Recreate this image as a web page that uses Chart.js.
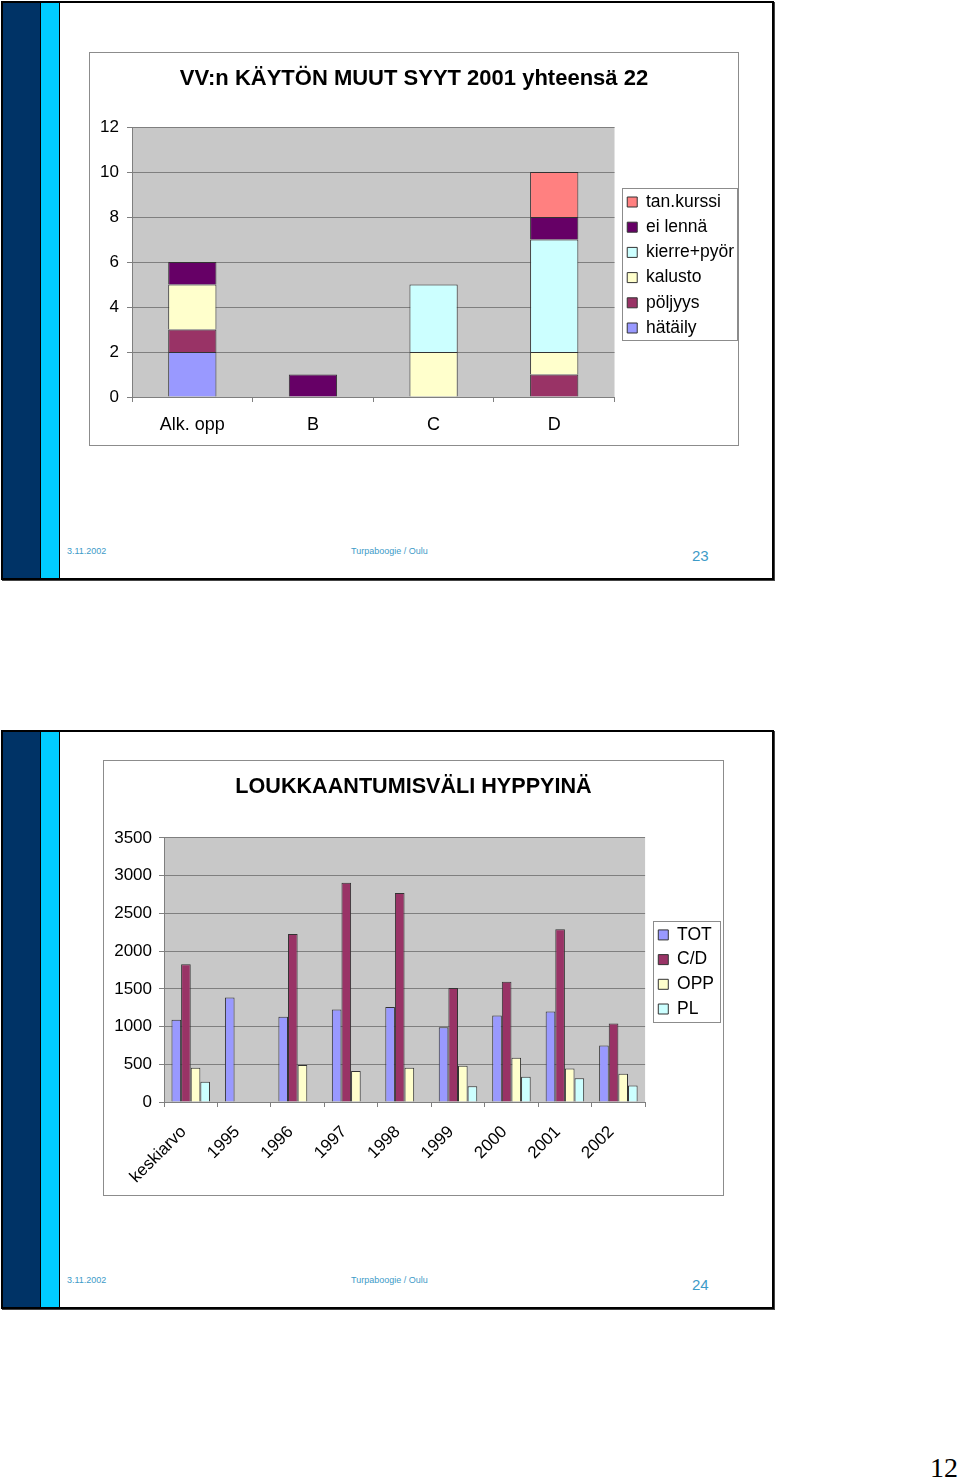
<!DOCTYPE html>
<html lang="fi">
<head>
  <meta charset="UTF-8">
  <title>Turpaboogie / Oulu</title>
  <script src="https://cdn.jsdelivr.net/npm/chart.js"></script>
  <style>
    body {
      margin: 0;
      width: 960px;
      height: 1480px;
      position: relative;
      background: #fff;
      font-family: "Liberation Sans", Arial, sans-serif;
      overflow: hidden;
    }
    .slide {
      position: absolute;
      left: 1px;
      width: 773px;
      height: 579px;
      border: 2px solid #000;
      box-sizing: border-box;
      box-shadow: 1px 1px 0 #444;
      background: #fff;
    }
    .navy {
      position: absolute;
      left: 0; top: 0; bottom: 0;
      width: 37px;
      background: #003366;
      border-right: 1px solid #000;
    }
    .cyan {
      position: absolute;
      left: 38px; top: 0; bottom: 0;
      width: 18px;
      background: #00CCFF;
      border-right: 1px solid #000;
    }
    .box {
      position: absolute;
      border: 1px solid #8c8c8c;
      background: #fff;
      box-sizing: border-box;
    }
    .box canvas { position: absolute; left: 0; top: 0; }
    .foot {
      position: absolute;
      color: #3d9bc8;
      font-size: 9px;
      white-space: nowrap;
    }
    .num {
      position: absolute;
      color: #3d9bc8;
      font-size: 15px;
    }
    .page {
      position: absolute;
      right: 2px;
      top: 1452px;
      font-family: "Liberation Serif", "DejaVu Serif", serif;
      font-size: 28px;
    }
  </style>
</head>
<body>
  <div class="slide" style="top:1px"><div class="navy"></div><div class="cyan"></div></div>
  <div class="box" style="left:89px; top:52px; width:650px; height:394px">
    <canvas id="syyt" width="648" height="392"></canvas>
  </div>
  <div class="foot" style="left:67px; top:546px">3.11.2002</div>
  <div class="foot" style="left:351px; top:546px">Turpaboogie / Oulu</div>
  <div class="num" style="left:692px; top:547px">23</div>

  <div class="slide" style="top:730px"><div class="navy"></div><div class="cyan"></div></div>
  <div class="box" style="left:103px; top:760px; width:621px; height:436px">
    <canvas id="vali" width="619" height="434"></canvas>
  </div>
  <div class="foot" style="left:67px; top:1275px">3.11.2002</div>
  <div class="foot" style="left:351px; top:1275px">Turpaboogie / Oulu</div>
  <div class="num" style="left:692px; top:1276px">24</div>

  <div class="page">12</div>

  <script>
    // kuva 1: VV:n käytön muut syyt 2001
    const ryhmat = ['Alk. opp', 'B', 'C', 'D'];
    const hataily = [2, 0, 0, 0];
    const poljyys = [1, 0, 0, 1];
    const kalusto = [2, 0, 2, 1];
    const kierrePyor = [0, 0, 3, 5];
    const eiLenna = [1, 1, 0, 1];
    const tanKurssi = [0, 0, 0, 2];
    const syytTicks = [0, 2, 4, 6, 8, 10, 12];

    // kuva 2: loukkaantumisväli hyppyinä
    const vuodet = ['keskiarvo', '1995', '1996', '1997', '1998', '1999', '2000', '2001', '2002'];
    const tot = [1090, 1385, 1130, 1225, 1260, 990, 1145, 1200, 750];
    const cd = [1825, null, 2225, 2905, 2770, 1510, 1595, 2290, 1040];
    const opp = [455, null, 490, 410, 455, 480, 585, 445, 375];
    const pl = [270, null, null, null, null, 210, 335, 315, 220];

    const FONT = '"Liberation Sans", Arial, sans-serif';
    const GRID = '#7f7f7f';

    const plotBg = {
      id: 'plotBg',
      beforeDraw(chart, args, opts) {
        const { ctx, chartArea: a } = chart;
        ctx.save();
        ctx.fillStyle = opts.color;
        ctx.fillRect(a.left, a.top, a.width, a.height);
        ctx.restore();
      }
    };

    // legend sits beside the plot, centred on it, with a thin frame
    const legendFrame = {
      id: 'legendFrame',
      beforeLayout(chart, args, opts) {
        const lg = chart.legend;
        if (lg && !lg._widened) {
          const fit = lg.fit;
          lg.fit = function () { fit.call(this); this.width += opts.gap - opts.trim; };
          lg._widened = true;
        }
      },
      afterLayout(chart, args, opts) {
        const lg = chart.legend;
        lg.left += opts.gap;
        lg.top = chart.chartArea.top + opts.dy;
        lg.bottom = chart.chartArea.bottom + opts.dy;
      },
      afterDraw(chart, args, opts) {
        const boxes = chart.legend.legendHitBoxes;
        if (!boxes || !boxes.length) return;
        let l = Infinity, r = -Infinity, t = Infinity, b = -Infinity;
        boxes.forEach(h => {
          l = Math.min(l, h.left); r = Math.max(r, h.left + h.width);
          t = Math.min(t, h.top); b = Math.max(b, h.top + h.height);
        });
        const ctx = chart.ctx;
        ctx.save();
        ctx.strokeStyle = '#8c8c8c';
        ctx.lineWidth = 1;
        ctx.strokeRect(Math.round(l - 5) + 0.5, Math.round(t - 5) + 0.5,
          Math.round(r - l + 5 + opts.right), Math.round(b - t + 9));
        ctx.restore();
      }
    };

    function set(label, data, color) {
      return { label, data, backgroundColor: color, borderColor: '#333', borderWidth: 1 };
    }

    new Chart(document.getElementById('syyt'), {
      type: 'bar',
      data: {
        labels: ryhmat,
        datasets: [
          set('hätäily', hataily, '#9999FF'),
          set('pöljyys', poljyys, '#993366'),
          set('kalusto', kalusto, '#FFFFCC'),
          set('kierre+pyör', kierrePyor, '#CCFFFF'),
          set('ei lennä', eiLenna, '#660066'),
          set('tan.kurssi', tanKurssi, '#FF8080')
        ]
      },
      options: {
        responsive: false,
        animation: false,
        layout: { padding: { left: 2, right: 2, top: 0, bottom: 0 } },
        datasets: { bar: { barPercentage: 0.4, categoryPercentage: 1 } },
        scales: {
          x: {
            stacked: true,
            grid: { display: true, drawOnChartArea: false, offset: true, tickLength: 5, color: GRID },
            border: { color: GRID },
            ticks: { color: '#000', font: { family: FONT, size: 18 }, padding: 12, maxRotation: 0 },
            afterFit(s) { s.height = 48; }
          },
          y: {
            stacked: true,
            min: 0,
            max: 12,
            afterBuildTicks(s) { s.ticks = syytTicks.map(v => ({ value: v })); },
            grid: { color: GRID, tickLength: 5 },
            border: { color: GRID },
            ticks: { color: '#000', font: { family: FONT, size: 17 }, padding: 8 },
            afterFit(s) { s.width = 40; }
          }
        },
        plugins: {
          title: {
            display: true,
            text: 'VV:n KÄYTÖN MUUT SYYT 2001 yhteensä 22',
            color: '#000',
            font: { family: FONT, size: 22, weight: 'bold' },
            padding: { top: 12.6, bottom: 35 }
          },
          legend: {
            position: 'right',
            reverse: true,
            labels: { color: '#000', font: { family: FONT, size: 17.5 }, boxWidth: 10, boxHeight: 10, padding: 7.7 }
          },
          tooltip: { enabled: false },
          plotBg: { color: '#c8c8c8' },
          legendFrame: { gap: 5, trim: 8, right: 3, dy: 3 }
        }
      },
      plugins: [plotBg, legendFrame]
    });

    new Chart(document.getElementById('vali'), {
      type: 'bar',
      data: {
        labels: vuodet,
        datasets: [
          set('TOT', tot, '#9999FF'),
          set('C/D', cd, '#993366'),
          set('OPP', opp, '#FFFFCC'),
          set('PL', pl, '#CCFFFF')
        ]
      },
      options: {
        responsive: false,
        animation: false,
        layout: { padding: { left: 7, right: 7, top: 0, bottom: 0 } },
        datasets: { bar: { barPercentage: 1, categoryPercentage: 0.72 } },
        scales: {
          x: {
            grid: { display: true, drawOnChartArea: false, offset: true, tickLength: 5, color: GRID },
            border: { color: GRID },
            ticks: {
              color: '#000', font: { family: FONT, size: 17 }, padding: 15, labelOffset: -7,
              minRotation: 45, maxRotation: 45
            },
            afterFit(s) { s.height = 93; }
          },
          y: {
            min: 0,
            max: 3500,
            ticks: {
              stepSize: 500, color: '#000', font: { family: FONT, size: 17 }, padding: 7,
              callback: v => String(v)
            },
            grid: { color: GRID, tickLength: 5 },
            border: { color: GRID },
            afterFit(s) { s.width = 53; }
          }
        },
        plugins: {
          title: {
            display: true,
            text: 'LOUKKAANTUMISVÄLI HYPPYINÄ',
            color: '#000',
            font: { family: FONT, size: 21.6, weight: 'bold' },
            padding: { top: 13, bottom: 38 }
          },
          legend: {
            position: 'right',
            labels: { color: '#000', font: { family: FONT, size: 17.5 }, boxWidth: 10, boxHeight: 10, padding: 7.2 }
          },
          tooltip: { enabled: false },
          plotBg: { color: '#c8c8c8' },
          legendFrame: { gap: 6, trim: 8, right: 6, dy: 2 }
        }
      },
      plugins: [plotBg, legendFrame]
    });
  </script>
</body>
</html>
